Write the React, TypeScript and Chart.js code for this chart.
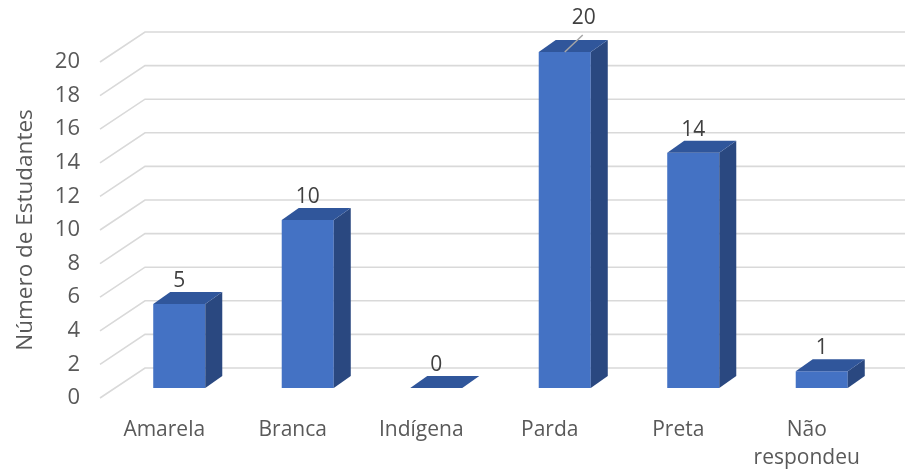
import React, { useEffect, useRef } from "react";
import { Chart, registerables } from "chart.js";

Chart.register(...registerables);

// ---- data ----
const categories: (string | string[])[] = [
  "Amarela",
  "Branca",
  "Indígena",
  "Parda",
  "Preta",
  ["Não", "respondeu"],
];
const values: number[] = [5, 10, 0, 20, 14, 1];
const yMin = 0;
const yMax = 20;
const yStep = 2;
const yTitle = "Número de Estudantes";

// ---- style constants ----
const FONT = "'Open Sans', 'DejaVu Sans', sans-serif";
const TEXT = "#595959";
const LABEL = "#404040";
const GRID = "#D9D9D9";
const FRONT = "#4472C4";
const TOP = "#30569B";
const SIDE = "#2A4880";
const BAR_DX = 15; // bar plane offset from front floor edge
const BAR_DY = -10;
const BACK_DX = 45; // back wall offset from front floor edge
const BACK_DY = -30;
const DEPTH_DX = 17; // bar depth
const DEPTH_DY = -12;

const threeD = {
  id: "threeD",
  beforeDatasetsDraw(chart: any) {
    const { ctx, chartArea, scales } = chart;
    const ys = scales.y;
    ctx.save();
    ctx.strokeStyle = GRID;
    ctx.lineWidth = 1.6;
    for (const t of ys.ticks) {
      const y = ys.getPixelForValue(t.value);
      ctx.beginPath();
      ctx.moveTo(chartArea.left, y);
      ctx.lineTo(chartArea.left + BACK_DX, y + BACK_DY);
      ctx.lineTo(chart.width, y + BACK_DY);
      ctx.stroke();
    }
    ctx.restore();
    ctx.save();
    ctx.translate(BAR_DX, BAR_DY);
  },
  afterDatasetsDraw(chart: any) {
    const { ctx } = chart;
    const meta = chart.getDatasetMeta(0);
    for (const el of meta.data) {
      const { x, y, base, width } = el.getProps(["x", "y", "base", "width"], true);
      const l = x - width / 2;
      const r = x + width / 2;
      // side face
      ctx.fillStyle = SIDE;
      ctx.beginPath();
      ctx.moveTo(r, y);
      ctx.lineTo(r + DEPTH_DX, y + DEPTH_DY);
      ctx.lineTo(r + DEPTH_DX, base + DEPTH_DY);
      ctx.lineTo(r, base);
      ctx.closePath();
      ctx.fill();
      // top face
      ctx.fillStyle = TOP;
      ctx.beginPath();
      ctx.moveTo(l, y);
      ctx.lineTo(l + DEPTH_DX, y + DEPTH_DY);
      ctx.lineTo(r + DEPTH_DX, y + DEPTH_DY);
      ctx.lineTo(r, y);
      ctx.closePath();
      ctx.fill();
    }
    ctx.restore();

    // data labels
    const chartTop = chart.chartArea.top;
    ctx.save();
    ctx.font = `21px ${FONT}`;
    ctx.fillStyle = LABEL;
    ctx.textAlign = "center";
    ctx.textBaseline = "middle";
    meta.data.forEach((el: any, i: number) => {
      const bx = el.x + BAR_DX;
      const by = el.y + BAR_DY;
      const txt = String(values[i]);
      if (el.y <= chartTop + 1) {
        ctx.strokeStyle = "#A6A6A6";
        ctx.lineWidth = 1.5;
        ctx.beginPath();
        ctx.moveTo(bx, by);
        ctx.lineTo(bx + 18, by - 17);
        ctx.stroke();
        ctx.fillText(txt, bx + 19, by - 34);
      } else {
        ctx.fillText(txt, bx, by - 23);
      }
    });
    ctx.restore();
  },
};

export default function App() {
  const ref = useRef<HTMLCanvasElement | null>(null);
  useEffect(() => {
    if (!ref.current) return;
    const chart = new Chart(ref.current, {
      type: "bar",
      data: {
        labels: categories,
        datasets: [
          {
            data: values,
            backgroundColor: FRONT,
            borderWidth: 0,
            barPercentage: 0.405,
            categoryPercentage: 1,
            clip: false as any,
          },
        ],
      },
      options: {
        responsive: false,
        animation: false,
        devicePixelRatio: 1,
        layout: { padding: { top: 62, right: 34, bottom: 0, left: 0 } },
        plugins: {
          legend: { display: false },
          tooltip: { enabled: false },
        },
        scales: {
          x: {
            grid: { display: false, drawTicks: false },
            border: { display: false },
            ticks: {
              color: TEXT,
              font: { family: FONT, size: 21, lineHeight: 1.33 },
              padding: 18,
              maxRotation: 0,
              minRotation: 0,
              autoSkip: false,
            },
            afterFit(scale: any) {
              scale.height = 76;
            },
          },
          y: {
            min: yMin,
            max: yMax,
            grid: { display: false, drawTicks: false },
            border: { display: false },
            ticks: {
              stepSize: yStep,
              color: TEXT,
              font: { family: FONT, size: 22 },
              padding: 20,
            },
            title: {
              display: true,
              text: yTitle,
              color: TEXT,
              font: { family: FONT, size: 22.5 },
              padding: { top: 12, bottom: 0 },
            },
            afterFit(scale: any) {
              scale.width = 100;
            },
          },
        },
      },
      plugins: [threeD],
    });
    return () => chart.destroy();
  }, []);
  return (
    <div style={{ position: "absolute", left: 0, top: 0, width: 905, height: 474, background: "#fff" }}>
      <canvas ref={ref} width={905} height={474} style={{ display: "block" }} />
    </div>
  );
}
